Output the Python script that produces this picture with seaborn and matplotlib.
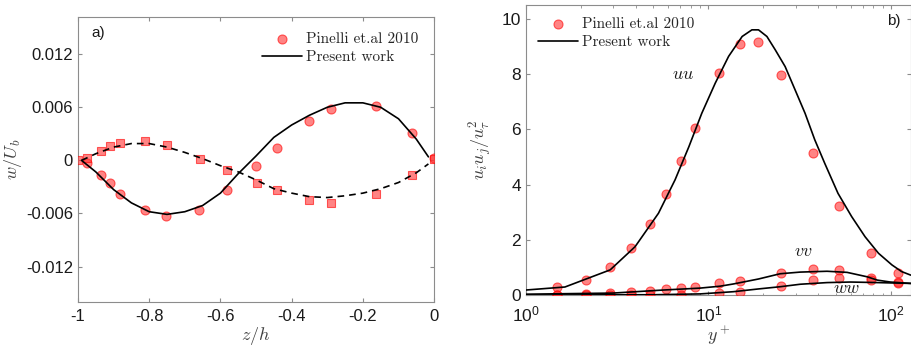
import matplotlib
matplotlib.use('Agg')
import matplotlib.pyplot as plt
import seaborn as sns

# a) spanwise velocity w/Ub vs z/h
z_pin_circ = [-0.975, -0.936, -0.911, -0.881, -0.813, -0.752, -0.660, -0.582, -0.501,
              -0.441, -0.351, -0.289, -0.162, -0.063, 0.0]
w_pin_circ = [-0.0003, -0.0017, -0.0026, -0.0038, -0.0056, -0.0063, -0.0056, -0.0034, -0.0006,
              0.0014, 0.0044, 0.0058, 0.0061, 0.0031, 0.0003]
z_pin_sq = [-0.999, -0.974, -0.936, -0.910, -0.882, -0.812, -0.751, -0.657, -0.582, -0.498,
            -0.441, -0.351, -0.289, -0.162, -0.063, 0.0]
w_pin_sq = [0.0, 0.0003, 0.0011, 0.0016, 0.0020, 0.0022, 0.0017, 0.0002, -0.0011, -0.0025,
            -0.0034, -0.0045, -0.0048, -0.0038, -0.0017, 0.0001]

z_pw = [-0.99, -0.95, -0.90, -0.85, -0.80, -0.75, -0.70, -0.65, -0.60, -0.55, -0.50, -0.45,
        -0.40, -0.35, -0.30, -0.25, -0.20, -0.15, -0.10, -0.05, -0.016]
w_pw_solid = [0.0, -0.0013, -0.0033, -0.0048, -0.0058, -0.0061, -0.0058, -0.0051, -0.0037,
              -0.0015, 0.0005, 0.0026, 0.0040, 0.0051, 0.0060, 0.0065, 0.0065, 0.0060,
              0.0047, 0.0024, 0.0004]
w_pw_dash = [0.0, 0.00075, 0.0015, 0.0019, 0.0019, 0.0015, 0.0009, 0.0002, -0.0006, -0.0013,
             -0.0022, -0.0032, -0.0037, -0.0041, -0.0042, -0.0040, -0.0037, -0.0032, -0.0025,
             -0.0014, -0.0004]

# b) Reynolds stresses vs y+
yp_uu = [1.49, 2.14, 2.89, 3.78, 4.78, 5.85, 7.10, 8.40, 11.4, 14.8, 18.6, 25.1, 37.4, 51.9, 77.7, 109.7]
uu_pin = [0.28, 0.56, 1.01, 1.69, 2.56, 3.66, 4.86, 6.05, 8.03, 9.08, 9.15, 7.98, 5.13, 3.21, 1.52, 0.81]
yp_vv = [1.49, 2.14, 2.89, 3.78, 4.78, 5.85, 7.10, 8.40, 11.4, 14.8, 25.1, 37.4, 51.9, 77.7, 109.7]
vv_pin = [0.01, 0.02, 0.06, 0.10, 0.15, 0.20, 0.25, 0.30, 0.42, 0.52, 0.81, 0.95, 0.91, 0.60, 0.46]
yp_ww = [1.49, 2.14, 2.89, 3.78, 4.78, 7.10, 11.4, 14.8, 25.1, 37.4, 51.9, 77.7, 109.7]
ww_pin = [0.0, 0.0, 0.01, 0.01, 0.01, 0.01, 0.06, 0.12, 0.34, 0.56, 0.60, 0.53, 0.45]

yp_uu_pw = [1.0, 1.64, 2.90, 3.97, 5.33, 6.57, 7.82, 9.2, 10.9, 12.9, 15.3, 17.3, 18.8, 20.9,
            23.2, 26.3, 29.8, 33.8, 38.2, 43.3, 51.2, 60.8, 72.0, 85.3, 101, 114, 128]
uu_pw = [0.18, 0.29, 0.91, 1.75, 2.96, 4.17, 5.37, 6.58, 7.67, 8.64, 9.36, 9.60, 9.60, 9.36,
         8.88, 8.27, 7.43, 6.58, 5.62, 4.77, 3.68, 2.84, 2.11, 1.51, 1.09, 0.85, 0.72]
yp_vv_pw = [1.0, 3.0, 5.65, 9.0, 11.6, 13.7, 18.8, 24.7, 31.8, 44.6, 57.4, 73.9, 84, 99, 128]
vv_pw = [0.03, 0.07, 0.18, 0.25, 0.32, 0.40, 0.58, 0.77, 0.83, 0.86, 0.82, 0.66, 0.54, 0.47, 0.42]
yp_ww_pw = [1.0, 5.0, 9.0, 13.7, 18.8, 24.7, 31.8, 44.6, 60, 84, 128]
ww_pw = [0.0, 0.01, 0.04, 0.12, 0.22, 0.30, 0.39, 0.45, 0.47, 0.45, 0.42]

xt_a = [-1, -0.8, -0.6, -0.4, -0.2, 0]
xt_a_lab = ['-1', '-0.8', '-0.6', '-0.4', '-0.2', '0']
yt_a = [-0.012, -0.006, 0, 0.006, 0.012]
yt_a_lab = ['-0.012', '-0.006', '0', '0.006', '0.012']
yt_b = [0, 2, 4, 6, 8, 10]

sns.set_style('ticks', rc={'xtick.direction': 'in', 'ytick.direction': 'in',
                           'xtick.top': True, 'ytick.right': True,
                           'axes.edgecolor': '#8c8c8c'})
plt.rcParams['font.family'] = ['Liberation Sans', 'DejaVu Sans']
plt.rcParams['mathtext.fontset'] = 'cm'
plt.rcParams['axes.unicode_minus'] = False
plt.rcParams['xtick.major.size'] = 3
plt.rcParams['ytick.major.size'] = 3
plt.rcParams['xtick.minor.size'] = 1.8
plt.rcParams['xtick.color'] = '#8c8c8c'
plt.rcParams['ytick.color'] = '#8c8c8c'
plt.rcParams['xtick.labelcolor'] = '#1a1a1a'
plt.rcParams['ytick.labelcolor'] = '#1a1a1a'

mk = dict(color='#ff3333', edgecolor='#ff0000', alpha=0.6, linewidth=0.8, zorder=3)
ln = dict(color='k', linewidth=1.2, sort=False, estimator=None, zorder=4)
leg_font = {'family': 'cmr10', 'size': 11}

fig = plt.figure(figsize=(9.12, 3.51), dpi=100)
ax1 = fig.add_axes([0.0855, 0.1396, 0.3905, 0.812])
ax2 = fig.add_axes([0.5764, 0.1595, 0.4222, 0.8263])

# panel a
sns.scatterplot(x=z_pin_circ, y=w_pin_circ, ax=ax1, marker='o', s=42, label='Pinelli et.al 2010', **mk)
sns.scatterplot(x=z_pin_sq, y=w_pin_sq, ax=ax1, marker='s', s=36, **mk)
sns.lineplot(x=z_pw, y=w_pw_solid, ax=ax1, label='Present work', **ln)
sns.lineplot(x=z_pw, y=w_pw_dash, ax=ax1, linestyle=(0, (4, 3)), **ln)
ax1.set_xlim(-1, 0)
ax1.set_ylim(-0.016, 0.0162)
ax1.set_xticks(xt_a, labels=xt_a_lab)
ax1.set_yticks(yt_a, labels=yt_a_lab)
ax1.tick_params(labelsize=12)
ax1.tick_params(axis='x', pad=5)
ax1.set_xlabel(r'$z/h$', fontsize=13, color='#404040', labelpad=1)
ax1.set_ylabel(r'$w/U_b$', fontsize=13, color='#404040')
ax1.yaxis.set_label_coords(-0.152, 0.5)
ax1.text(-0.962, 0.0144, 'a)', fontsize=11, color='#1a1a1a', va='center')
ax1.legend(loc='upper right', frameon=False, prop=leg_font, handlelength=2.6,
           handletextpad=0.3, labelspacing=0.3, borderaxespad=0.6)

# panel b
sns.scatterplot(x=yp_uu, y=uu_pin, ax=ax2, marker='o', s=42, label='Pinelli et.al 2010', **mk)
sns.scatterplot(x=yp_vv, y=vv_pin, ax=ax2, marker='o', s=42, **mk)
sns.scatterplot(x=yp_ww, y=ww_pin, ax=ax2, marker='o', s=42, **mk)
sns.lineplot(x=yp_uu_pw, y=uu_pw, ax=ax2, label='Present work', **ln)
sns.lineplot(x=yp_vv_pw, y=vv_pw, ax=ax2, **ln)
sns.lineplot(x=yp_ww_pw, y=ww_pw, ax=ax2, **ln)
ax2.set_xscale('log')
ax2.set_xlim(1, 128)
ax2.set_ylim(0, 10.5)
ax2.set_yticks(yt_b)
ax2.tick_params(labelsize=12.5)
ax2.tick_params(axis='x', pad=7)
ax2.set_xlabel(r'$y^+$', fontsize=13, color='#404040', labelpad=0)
ax2.set_ylabel(r'$u_iu_j/u_\tau^2$', fontsize=13, color='#404040')
ax2.yaxis.set_label_coords(-0.083, 0.5)
ax2.text(7.28, 8.0, r'$uu$', fontsize=13, color='#1a1a1a', ha='center', va='center')
ax2.text(33.1, 1.57, r'$vv$', fontsize=13, color='#1a1a1a', ha='center', va='center')
ax2.text(57.4, 0.24, r'$ww$', fontsize=13, color='#1a1a1a', ha='center', va='center')
ax2.text(104, 9.93, 'b)', fontsize=11, color='#1a1a1a', ha='center', va='center')
ax2.legend(loc='upper left', frameon=False, prop=leg_font, handlelength=2.6,
           handletextpad=0.3, labelspacing=0.3, borderaxespad=0.4)

fig.savefig('out.png', dpi=100)
